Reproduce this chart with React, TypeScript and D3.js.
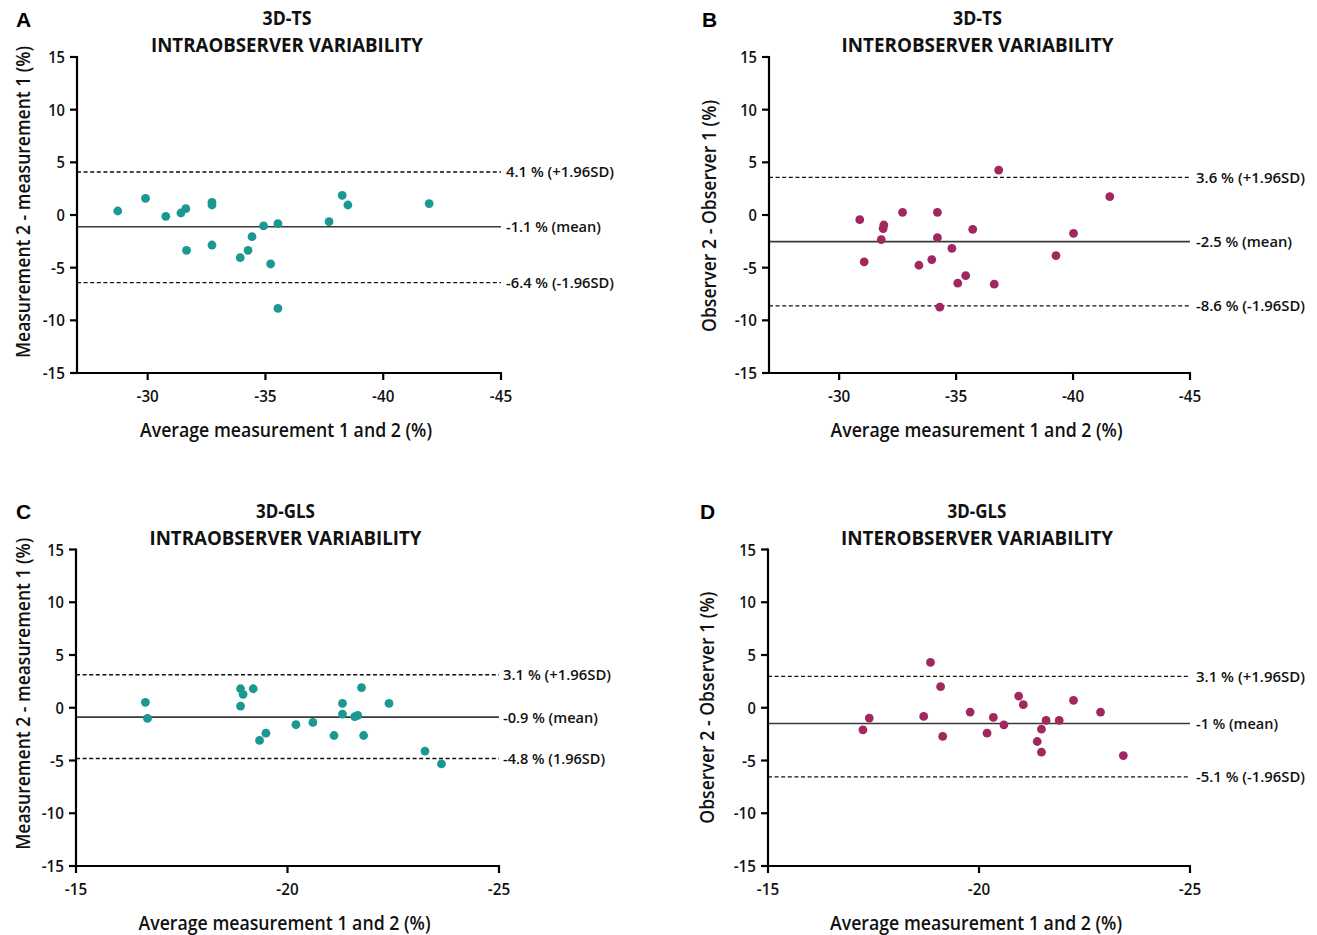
import React from 'react';
import * as d3 from 'd3';

// ---------- DATA ----------
// Panel A: 3D-TS intraobserver
const aAvg = [-28.73, -29.91, -30.77, -31.41, -31.62, -31.65, -32.73, -32.73, -32.73, -33.93, -34.26, -34.43, -34.92, -35.22, -35.53, -35.53, -37.7, -38.26, -38.5, -41.95];
const aDiff = [0.38, 1.58, -0.13, 0.19, 0.6, -3.35, 1.2, 0.95, -2.85, -4.05, -3.35, -2.06, -1.04, -4.65, -0.82, -8.86, -0.63, 1.87, 0.95, 1.08];
const aLines = [4.08, -1.11, -6.42];
const aLineLabels = ['4.1 % (+1.96SD)', '-1.1 % (mean)', '-6.4 % (-1.96SD)'];

// Panel B: 3D-TS interobserver
const bAvg = [-30.88, -31.07, -31.8, -31.88, -31.91, -32.71, -33.41, -33.96, -34.2, -34.2, -34.3, -34.82, -35.07, -35.41, -35.71, -36.63, -36.82, -39.27, -40.02, -41.57];
const bDiff = [-0.44, -4.45, -2.34, -1.29, -0.95, 0.25, -4.77, -4.23, 0.25, -2.15, -8.75, -3.16, -6.47, -5.75, -1.36, -6.57, 4.26, -3.85, -1.74, 1.74];
const bLines = [3.57, -2.53, -8.62];
const bLineLabels = ['3.6 % (+1.96SD)', '-2.5 % (mean)', '-8.6 % (-1.96SD)'];

// Panel C: 3D-GLS intraobserver
const cAvg = [-16.64, -16.69, -18.89, -18.89, -18.95, -19.19, -19.34, -19.49, -20.2, -20.6, -21.1, -21.3, -21.3, -21.59, -21.66, -21.75, -21.8, -22.4, -23.25, -23.64];
const cDiff = [0.51, -1.01, 1.8, 0.16, 1.27, 1.8, -3.1, -2.41, -1.61, -1.39, -2.63, 0.41, -0.6, -0.85, -0.73, 1.9, -2.63, 0.41, -4.11, -5.32];
const cLines = [3.13, -0.89, -4.81];
const cLineLabels = ['3.1 % (+1.96SD)', '-0.9 % (mean)', '-4.8 % (1.96SD)'];

// Panel D: 3D-GLS interobserver
const dAvg = [-17.25, -17.4, -18.69, -18.85, -19.09, -19.14, -19.79, -20.19, -20.34, -20.59, -20.94, -21.05, -21.38, -21.48, -21.48, -21.59, -21.9, -22.24, -22.88, -23.42];
const dDiff = [-2.09, -0.98, -0.82, 4.31, 2.0, -2.72, -0.41, -2.41, -0.92, -1.62, 1.11, 0.29, -3.2, -2.03, -4.21, -1.2, -1.2, 0.7, -0.41, -4.53];
const dLines = [2.98, -1.49, -6.56];
const dLineLabels = ['3.1 % (+1.96SD)', '-1 % (mean)', '-5.1 % (-1.96SD)'];

const yTicks = [15, 10, 5, 0, -5, -10, -15];
const tsXTicks = [-30, -35, -40, -45];
const glsXTicks = [-15, -20, -25];

const TEAL = '#1b9892';
const MAGENTA = '#a1285e';
const FONT = "'Open Sans', 'Noto Sans', sans-serif";

function tickLen(s: string) {
  let w = 0;
  for (const ch of s) w += ch === '-' ? 5.5 : 8.4;
  return w;
}

type PanelProps = {
  letter: string;
  title1: string;
  title2: string;
  yTitle: string;
  yTitleLen: number;
  yTitleShift: number;
  xs: number[];
  ys: number[];
  lines: number[];
  labels: string[];
  labelLens: number[];
  xDomain: [number, number];
  xTicks: number[];
  color: string;
  left: number;
  right: number;
  top: number;
  bottom: number;
  letterX: number;
  letterY: number;
  labelGap: number;
};

function Panel(p: PanelProps) {
  const x = d3.scaleLinear().domain(p.xDomain).range([p.left, p.right]);
  const y = d3.scaleLinear().domain([-15, 15]).range([p.bottom, p.top]);
  const cx = (p.left + p.right) / 2 - 3;
  const titleX = (p.left + p.right) / 2 - 2;
  return (
    <g>
      <text x={p.letterX} y={p.letterY} fontFamily="'Liberation Sans', Arial, sans-serif" fontWeight={700} fontSize={21} fill="#000">{p.letter}</text>
      <text x={titleX} y={p.top - 32} textAnchor="middle" fontFamily={FONT} fontWeight={700} fontSize={19} fill="#111" textLength={p.title1.length * 9.8} lengthAdjust="spacingAndGlyphs">{p.title1}</text>
      <text x={titleX} y={p.top - 5} textAnchor="middle" fontFamily={FONT} fontWeight={700} fontSize={19} fill="#111" textLength={272} lengthAdjust="spacingAndGlyphs">{p.title2}</text>

      {/* reference lines */}
      {p.lines.map((v, i) => (
        <line key={'l' + i} x1={p.left} x2={p.right} y1={y(v)} y2={y(v)}
          stroke={i === 1 ? '#3a3a3a' : '#111'} strokeWidth={i === 1 ? 1.6 : 1.3}
          strokeDasharray={i === 1 ? undefined : '4,2.6'} />
      ))}
      {p.lines.map((v, i) => (
        <text key={'t' + i} x={p.right + p.labelGap} y={y(v)} dy="0.36em" fontFamily={FONT} fontWeight={600} fontSize={15} fill="#111"
          textLength={p.labelLens[i]} lengthAdjust="spacingAndGlyphs">{p.labels[i]}</text>
      ))}

      {/* points */}
      {p.xs.map((v, i) => (
        <circle key={'c' + i} cx={x(v)} cy={y(p.ys[i])} r={4.4} fill={p.color} />
      ))}

      {/* axes */}
      <line x1={p.left} x2={p.left} y1={p.top - 1} y2={p.bottom + 1} stroke="#000" strokeWidth={2.2} />
      <line x1={p.left - 1} x2={p.right + 1} y1={p.bottom} y2={p.bottom} stroke="#000" strokeWidth={2.2} />
      {yTicks.map(t => (
        <g key={'yt' + t}>
          <line x1={p.left - 7} x2={p.left} y1={y(t)} y2={y(t)} stroke="#000" strokeWidth={2.2} />
          <text x={p.left - 12} y={y(t)} dy="0.36em" textAnchor="end" fontFamily={FONT} fontWeight={600} fontSize={17} fill="#111"
            textLength={tickLen(String(t))} lengthAdjust="spacingAndGlyphs">{String(t)}</text>
        </g>
      ))}
      {p.xTicks.map(t => (
        <g key={'xt' + t}>
          <line x1={x(t)} x2={x(t)} y1={p.bottom} y2={p.bottom + 7} stroke="#000" strokeWidth={2.2} />
          <text x={x(t)} y={p.bottom + 29} textAnchor="middle" fontFamily={FONT} fontWeight={600} fontSize={17} fill="#111"
            textLength={tickLen(String(t))} lengthAdjust="spacingAndGlyphs">{String(t)}</text>
        </g>
      ))}
      <text x={cx} y={p.bottom + 64} textAnchor="middle" fontFamily={FONT} fontWeight={600} fontSize={19} fill="#111"
        textLength={292} lengthAdjust="spacingAndGlyphs">Average measurement 1 and 2 (%)</text>
      <text transform={`translate(${p.letterX + 14},${(p.top + p.bottom) / 2 + p.yTitleShift}) rotate(-90)`} textAnchor="middle"
        fontFamily={FONT} fontWeight={600} fontSize={19} fill="#111"
        textLength={p.yTitleLen} lengthAdjust="spacingAndGlyphs">{p.yTitle}</text>
    </g>
  );
}

export default function App() {
  return (
    <svg width={1317} height={935} style={{ position: 'absolute', left: 0, top: 0, background: '#fff' }}>
      <rect width={1317} height={935} fill="#fff" />
      <Panel letter="A" title1="3D-TS" title2="INTRAOBSERVER VARIABILITY"
        yTitle="Measurement 2 - measurement 1 (%)" yTitleLen={312} yTitleShift={-13}
        xs={aAvg} ys={aDiff} lines={aLines} labels={aLineLabels} labelLens={[108, 95, 108]}
        xDomain={[-27, -45]} xTicks={tsXTicks} color={TEAL}
        left={77} right={501} top={57} bottom={373} letterX={16} letterY={27} labelGap={5} />
      <Panel letter="B" title1="3D-TS" title2="INTEROBSERVER VARIABILITY"
        yTitle="Observer 2 - Observer 1 (%)" yTitleLen={232} yTitleShift={1}
        xs={bAvg} ys={bDiff} lines={bLines} labels={bLineLabels} labelLens={[109, 96, 109]}
        xDomain={[-27, -45]} xTicks={tsXTicks} color={MAGENTA}
        left={769} right={1190} top={57} bottom={373} letterX={702} letterY={27} labelGap={6} />
      <Panel letter="C" title1="3D-GLS" title2="INTRAOBSERVER VARIABILITY"
        yTitle="Measurement 2 - measurement 1 (%)" yTitleLen={312} yTitleShift={-14}
        xs={cAvg} ys={cDiff} lines={cLines} labels={cLineLabels} labelLens={[108, 95, 102]}
        xDomain={[-15, -25]} xTicks={glsXTicks} color={TEAL}
        left={76} right={499} top={549.5} bottom={866} letterX={16} letterY={519} labelGap={4} />
      <Panel letter="D" title1="3D-GLS" title2="INTEROBSERVER VARIABILITY"
        yTitle="Observer 2 - Observer 1 (%)" yTitleLen={232} yTitleShift={0}
        xs={dAvg} ys={dDiff} lines={dLines} labels={dLineLabels} labelLens={[109, 82, 109]}
        xDomain={[-15, -25]} xTicks={glsXTicks} color={MAGENTA}
        left={768} right={1190} top={549.5} bottom={866} letterX={700} letterY={519} labelGap={6} />
    </svg>
  );
}
